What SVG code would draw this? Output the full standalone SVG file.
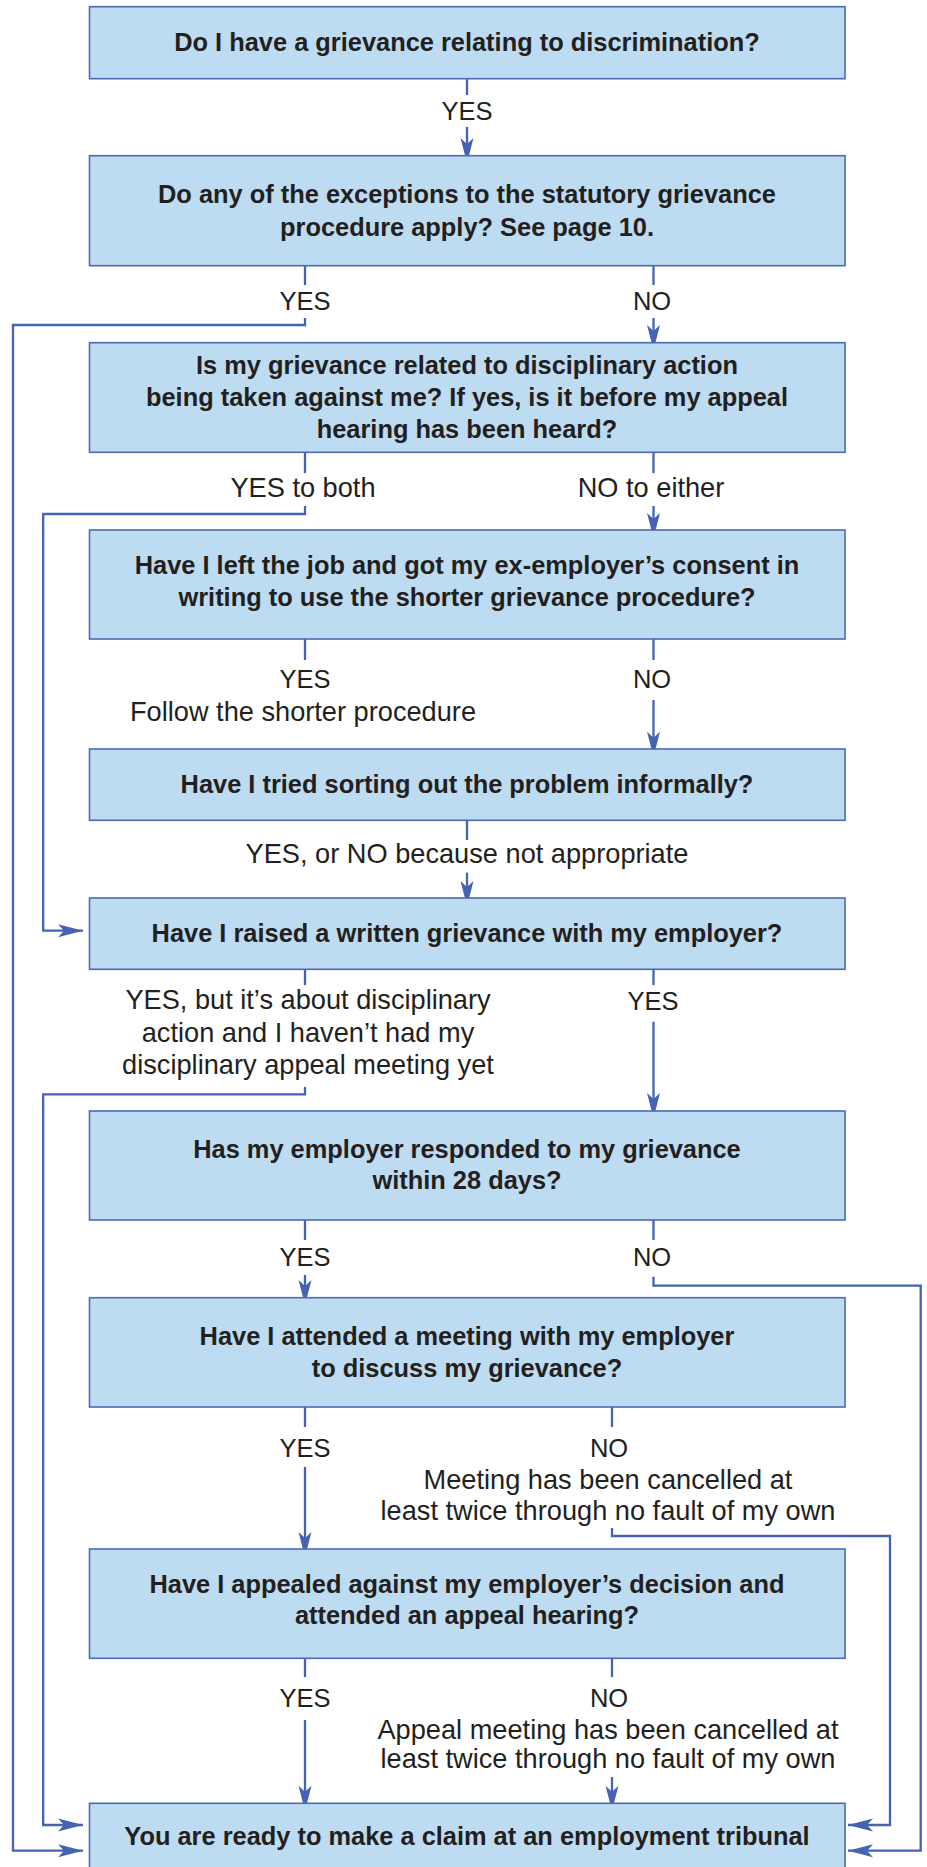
<svg xmlns="http://www.w3.org/2000/svg" width="927" height="1867" viewBox="0 0 927 1867">
<style>
.box{fill:#BDDBF1;stroke:#4A6BB6;stroke-width:1.6}
.q{font-family:"Liberation Sans",Arial,sans-serif;font-weight:bold;font-size:25.4px;fill:#231F20;text-anchor:middle}
.l{font-family:"Liberation Sans",Arial,sans-serif;font-size:27.2px;fill:#231F20;text-anchor:middle}
.s{font-size:25.5px}
.c{fill:none;stroke:#4563B2;stroke-width:2.3}
</style>
<defs>
<marker id="ah" markerUnits="userSpaceOnUse" viewBox="-26 -8 28 16" markerWidth="28" markerHeight="16" refX="0" refY="0" orient="auto">
<path d="M0,0 L-25,-6.5 L-19,0 L-25,6.5 Z" fill="#4563B2"/>
</marker>
</defs>
<rect width="927" height="1867" fill="#FFFFFF"/>
<g id="connectors">
<path class="c" d="M467,78.7 V95"/>
<path class="c" d="M467,127 V163" marker-end="url(#ah)"/>
<path class="c" d="M305,265.7 V285"/>
<path class="c" d="M305,318 V325 H13 V1850.7 H83" marker-end="url(#ah)"/>
<path class="c" d="M653.5,265.7 V285"/>
<path class="c" d="M653.5,318 V350" marker-end="url(#ah)"/>
<path class="c" d="M305,452.3 V473"/>
<path class="c" d="M305,506 V514 H43.2 V930.7 H83" marker-end="url(#ah)"/>
<path class="c" d="M653.5,452.3 V473"/>
<path class="c" d="M653.5,506 V538" marker-end="url(#ah)"/>
<path class="c" d="M305,639 V660"/>
<path class="c" d="M653.5,639 V660"/>
<path class="c" d="M653.5,700 V756.7" marker-end="url(#ah)"/>
<path class="c" d="M467,820.3 V840"/>
<path class="c" d="M467,872.7 V906" marker-end="url(#ah)"/>
<path class="c" d="M305,969.3 V985"/>
<path class="c" d="M305,1087 V1094.3 H43.2 V1825 H83" marker-end="url(#ah)"/>
<path class="c" d="M653.5,969.3 V985"/>
<path class="c" d="M653.5,1021.7 V1118" marker-end="url(#ah)"/>
<path class="c" d="M305,1220 V1240"/>
<path class="c" d="M305,1275 V1305" marker-end="url(#ah)"/>
<path class="c" d="M653.5,1220 V1240"/>
<path class="c" d="M653.5,1276.7 V1285.7 H920.7 V1850.7 H848" marker-end="url(#ah)"/>
<path class="c" d="M305,1407 V1427"/>
<path class="c" d="M305,1467 V1557" marker-end="url(#ah)"/>
<path class="c" d="M612,1407 V1427"/>
<path class="c" d="M612,1528 V1536 H890 V1825 H848" marker-end="url(#ah)"/>
<path class="c" d="M305,1658.3 V1677"/>
<path class="c" d="M305,1720 V1810.7" marker-end="url(#ah)"/>
<path class="c" d="M612,1658.3 V1677"/>
<path class="c" d="M612,1777 V1810.7" marker-end="url(#ah)"/>
</g>
<g id="labels">
<text class="l s" x="467" y="120">YES</text>
<text class="l s" x="305" y="310">YES</text>
<text class="l s" x="652" y="310">NO</text>
<text class="l" x="303" y="497">YES to both</text>
<text class="l" x="651" y="497">NO to either</text>
<text class="l s" x="305" y="688">YES</text>
<text class="l" x="303" y="721">Follow the shorter procedure</text>
<text class="l s" x="652" y="688">NO</text>
<text class="l" x="467" y="863">YES, or NO because not appropriate</text>
<text class="l" x="308" y="1009">YES, but it’s about disciplinary</text>
<text class="l" x="308" y="1042">action and I haven’t had my</text>
<text class="l" x="308" y="1074">disciplinary appeal meeting yet</text>
<text class="l s" x="653" y="1010">YES</text>
<text class="l s" x="305" y="1266">YES</text>
<text class="l s" x="652" y="1266">NO</text>
<text class="l s" x="305" y="1457">YES</text>
<text class="l s" x="609" y="1457">NO</text>
<text class="l" x="608" y="1489">Meeting has been cancelled at</text>
<text class="l" x="608" y="1520">least twice through no fault of my own</text>
<text class="l s" x="305" y="1707">YES</text>
<text class="l s" x="609" y="1707">NO</text>
<text class="l" x="608" y="1739">Appeal meeting has been cancelled at</text>
<text class="l" x="608" y="1768">least twice through no fault of my own</text>
</g>
<g id="n1"><rect class="box" x="89.5" y="6.7" width="755.5" height="72"/><text class="q" x="467" y="50.5">Do I have a grievance relating to discrimination?</text></g>
<g id="n2"><rect class="box" x="89.5" y="155.7" width="755.5" height="110"/><text class="q" x="467" y="203">Do any of the exceptions to the statutory grievance</text><text class="q" x="467" y="236">procedure apply? See page 10.</text></g>
<g id="n3"><rect class="box" x="89.5" y="342.7" width="755.5" height="109.6"/><text class="q" x="467" y="374">Is my grievance related to disciplinary action</text><text class="q" x="467" y="406">being taken against me? If yes, is it before my appeal</text><text class="q" x="467" y="437.5">hearing has been heard?</text></g>
<g id="n4"><rect class="box" x="89.5" y="530" width="755.5" height="109"/><text class="q" x="467" y="574">Have I left the job and got my ex-employer’s consent in</text><text class="q" x="467" y="605.7">writing to use the shorter grievance procedure?</text></g>
<g id="n5"><rect class="box" x="89.5" y="749" width="755.5" height="71.3"/><text class="q" x="467" y="793.3">Have I tried sorting out the problem informally?</text></g>
<g id="n6"><rect class="box" x="89.5" y="898" width="755.5" height="71.3"/><text class="q" x="467" y="942.3">Have I raised a written grievance with my employer?</text></g>
<g id="n7"><rect class="box" x="89.5" y="1111" width="755.5" height="109"/><text class="q" x="467" y="1157.7">Has my employer responded to my grievance</text><text class="q" x="467" y="1189.3">within 28 days?</text></g>
<g id="n8"><rect class="box" x="89.5" y="1297.7" width="755.5" height="109.3"/><text class="q" x="467" y="1345">Have I attended a meeting with my employer</text><text class="q" x="467" y="1376.7">to discuss my grievance?</text></g>
<g id="n9"><rect class="box" x="89.5" y="1549" width="755.5" height="109.3"/><text class="q" x="467" y="1593.3">Have I appealed against my employer’s decision and</text><text class="q" x="467" y="1624">attended an appeal hearing?</text></g>
<g id="n10"><rect class="box" x="89.5" y="1803.3" width="755.5" height="80"/><text class="q" x="467" y="1845">You are ready to make a claim at an employment tribunal</text></g>
</svg>
